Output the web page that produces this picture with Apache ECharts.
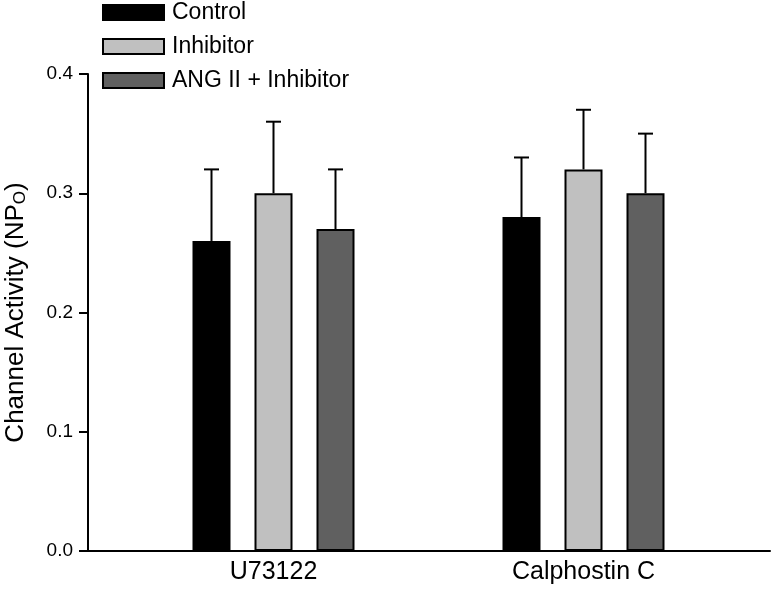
<!DOCTYPE html>
<html><head><meta charset="utf-8">
<script src="https://cdn.jsdelivr.net/npm/echarts@6/dist/echarts.min.js"></script>
<style>html,body{margin:0;padding:0;background:#fff}#c{width:773px;height:591px}</style>
</head><body><div id="c"></div>
<script>
const categories = ['U73122', 'Calphostin C'];
const seriesNames = ['Control', 'Inhibitor', 'ANG II + Inhibitor'];
const controlVals = [0.26, 0.28];
const inhibitorVals = [0.30, 0.32];
const angVals = [0.27, 0.30];
const controlErr = [0.06, 0.05];
const inhibitorErr = [0.06, 0.05];
const angErr = [0.05, 0.05];
const yTicks = [0, 0.1, 0.2, 0.3, 0.4];

const colors = ['#000000', '#c0c0c0', '#606060'];
const values = [controlVals, inhibitorVals, angVals];
const errs = [controlErr, inhibitorErr, angErr];
const BAR_W = 38, BAR_STEP = 62;
const font = 'Liberation Sans, Arial, sans-serif';

const chart = echarts.init(document.getElementById('c'));
const series = [];
values.forEach((vals, i) => {
  series.push({
    name: seriesNames[i], type: 'bar', xAxisIndex: 1, yAxisIndex: 1,
    data: vals, barWidth: BAR_W, barGap: ((BAR_STEP - BAR_W) / BAR_W * 100) + '%',
    itemStyle: { color: colors[i], borderColor: '#000', borderWidth: 2 },
    silent: true
  });
});
values.forEach((vals, i) => {
  series.push({
    type: 'custom', xAxisIndex: 1, yAxisIndex: 1, silent: true, z: 1,
    data: vals.map((v, j) => [j, v, v + errs[i][j]]),
    renderItem: function (params, api) {
      const base = api.coord([api.value(0), api.value(1)]);
      const top = api.coord([api.value(0), api.value(2)]);
      const x = base[0] + (i - 1) * BAR_STEP;
      return {
        type: 'group', children: [
          { type: 'line', shape: { x1: x, y1: base[1], x2: x, y2: top[1] }, style: { stroke: '#000', lineWidth: 2 } },
          { type: 'line', shape: { x1: x - 7.5, y1: top[1], x2: x + 7.5, y2: top[1] }, style: { stroke: '#000', lineWidth: 2 } }
        ]
      };
    }
  });
});

chart.setOption({
  animation: false,
  backgroundColor: '#fff',
  textStyle: { fontFamily: font },
  legend: {
    data: seriesNames, orient: 'vertical', left: 102, top: 1, padding: 0,
    itemWidth: 61, itemHeight: 15, itemGap: 11,
    textStyle: { fontSize: 23, color: '#000', fontFamily: font, lineHeight: 22, padding: [0, 0, 0, 3] },
    selectedMode: false, icon: 'rect'
  },
  grid: [
    { left: 88, right: 3, top: 74, bottom: 40, containLabel: false, outerBoundsMode: 'none' },
    { left: 118.5, right: 34.5, top: 74, bottom: 40, containLabel: false, outerBoundsMode: 'none' }
  ],
  xAxis: [
    { gridIndex: 0, type: 'value', min: 0, max: 1, axisLine: { lineStyle: { color: '#000', width: 2 } },
      axisTick: { show: false }, axisLabel: { show: false }, splitLine: { show: false } },
    { gridIndex: 1, type: 'category', data: categories, axisLine: { show: false }, axisTick: { show: false },
      axisLabel: { fontSize: 25, color: '#000', margin: 9, fontFamily: font } }
  ],
  yAxis: [
    { gridIndex: 0, type: 'value', min: 0, max: 0.4, interval: 0.1,
      axisLine: { show: true, lineStyle: { color: '#000', width: 2 } },
      axisTick: { show: true, length: 9, lineStyle: { color: '#000', width: 2 } },
      axisLabel: { fontSize: 19, color: '#000', margin: 15, fontFamily: font, formatter: v => v.toFixed(1) },
      splitLine: { show: false },
      name: 'Channel Activity (NP{sub|O})', nameLocation: 'middle', nameGap: 59,
      nameTextStyle: { fontSize: 26, color: '#000', fontFamily: font,
        rich: { sub: { fontSize: 17, verticalAlign: 'bottom', padding: [10, 0, 0, 0], color: '#000', fontFamily: font } } }
    },
    { gridIndex: 1, type: 'value', min: 0, max: 0.4, interval: 0.1, show: false, splitLine: { show: false } }
  ],
  series: series
});
</script></body></html>
